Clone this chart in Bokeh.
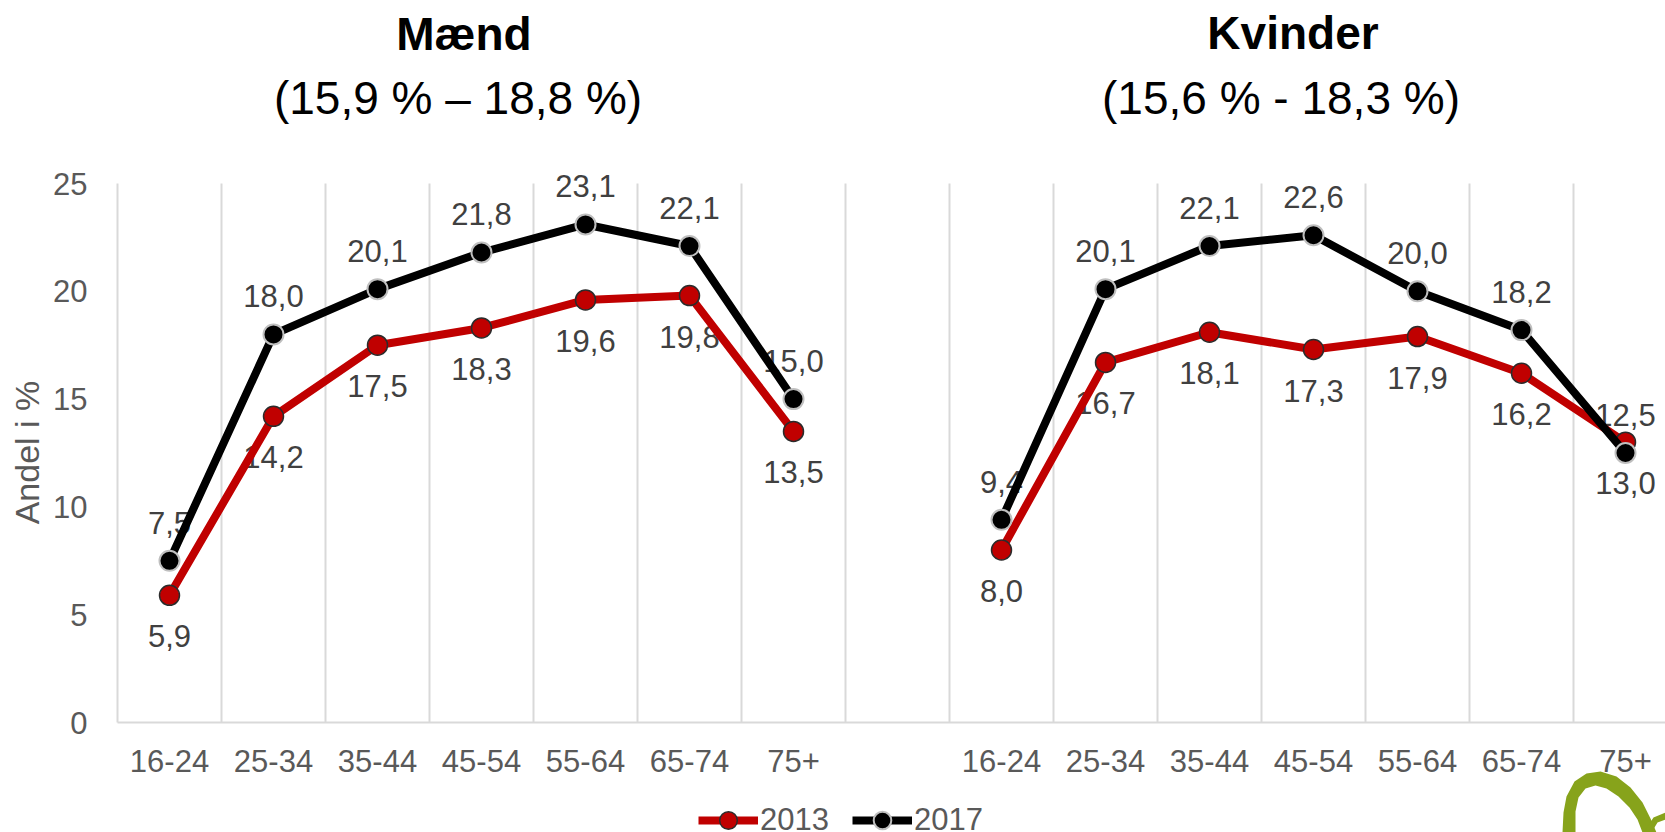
import math
from bokeh.plotting import figure
from bokeh.models import (ColumnDataSource, FixedTicker, LabelSet, Label, Legend,
                          LegendItem, Range1d)
from bokeh.core.properties import value
from bokeh.embed import file_html
from bokeh.resources import INLINE

# ---------------- data ----------------
ages = ["16-24", "25-34", "35-44", "45-54", "55-64", "65-74", "75+"]
years = ["2013", "2017"]
maend_2013 = [5.9, 14.2, 17.5, 18.3, 19.6, 19.8, 13.5]
maend_2017 = [7.5, 18.0, 20.1, 21.8, 23.1, 22.1, 15.0]
kvinder_2013 = [8.0, 16.7, 18.1, 17.3, 17.9, 16.2, 13.0]
kvinder_2017 = [9.4, 20.1, 22.1, 22.6, 20.0, 18.2, 12.5]
y_ticks = [0, 5, 10, 15, 20, 25]
titles = ["Mænd", "Kvinder"]
subtitles = ["(15,9 % – 18,8 %)", "(15,6 % - 18,3 %)"]
y_label = "Andel i %"

# ---------------- styling / layout ----------------
FONT = "Liberation Sans"
RED = "#C00000"
BLACK = "#000000"
GRID = "#D9D9D9"
AXIS_TXT = "#595959"
LBL_TXT = "#404040"
GREEN = "#87A31B"

W, H = 1665, 832          # the Bokeh page template has no body margin: figure at page 0,0
PAGE_X0, PAGE_Y0 = 0, 0
X_LEFT_PX, X_UNIT = 117, 104.0     # page px of category boundary -0.5, px per category
Y_ZERO_PX, Y_UNIT = 722, 21.56     # page px of value 0, px per unit
Y_MAX = 25


def dx(px):   # page pixel -> data x (layout helper for titles/decoration)
    return (px - X_LEFT_PX) / X_UNIT - 0.5


def dy(py):   # page pixel -> data y
    return (Y_ZERO_PX - py) / Y_UNIT


n = len(ages)
gap = 1
x_m = list(range(n))
x_k = [i + n + gap for i in range(n)]

x_range = Range1d(dx(PAGE_X0), dx(PAGE_X0 + W))
y_range = Range1d(dy(PAGE_Y0 + H), dy(PAGE_Y0))

p = figure(width=W, height=H, x_range=x_range, y_range=y_range,
           output_backend="svg", toolbar_location=None,
           min_border=0, min_border_left=0, min_border_right=0,
           min_border_top=0, min_border_bottom=0)
p.outline_line_color = None
p.background_fill_color = "white"
p.border_fill_color = "white"
p.xgrid.visible = False
p.ygrid.visible = False

# vertical category separators (gridlines) between 0 and the y max
bounds = [i - 0.5 for i in range(2 * n + gap)]
p.segment(x0=bounds, y0=[0] * len(bounds), x1=bounds, y1=[Y_MAX] * len(bounds),
          line_color=GRID, line_width=2, level="underlay")

# x axis drawn at y = 0
xa = p.xaxis[0]
xa.fixed_location = 0
xa.bounds = (-0.5, x_range.end)
xa.ticker = FixedTicker(ticks=x_m + x_k)
xa.major_label_overrides = {**{x: a for x, a in zip(x_m, ages)}, **{x: a for x, a in zip(x_k, ages)}}
xa.axis_line_color = GRID
xa.axis_line_width = 2
xa.major_tick_line_color = None
xa.minor_tick_line_color = None
xa.major_tick_out = 0
xa.major_tick_in = 0
xa.major_label_standoff = 27
xa.major_label_text_font = FONT
xa.major_label_text_font_size = "31px"
xa.major_label_text_color = AXIS_TXT

# y axis drawn at the left category boundary
ya = p.yaxis[0]
ya.fixed_location = -0.5
ya.bounds = (0, Y_MAX)
ya.ticker = FixedTicker(ticks=y_ticks)
ya.axis_line_color = None
ya.major_tick_line_color = None
ya.minor_tick_line_color = None
ya.major_tick_out = 0
ya.major_tick_in = 0
ya.major_label_standoff = 30
ya.major_label_text_font = FONT
ya.major_label_text_font_size = "31px"
ya.major_label_text_color = AXIS_TXT

p.add_layout(Label(x=dx(26), y=dy(452), text=y_label, angle=math.pi / 2,
                   text_font=FONT, text_font_size="34px", text_color=AXIS_TXT,
                   text_align="center", text_baseline="middle"))


def fmt(v):
    return f"{v:.1f}".replace(".", ",")


legend_r = {}
series = [
    (x_m, maend_2013, maend_2017),
    (x_k, kvinder_2013, kvinder_2017),
]
for gi, (xs, v13, v17) in enumerate(series):
    for year, vals, color, outline, olw, off in [
        ("2013", v13, RED, "#2B2B2B", 1.5, -41),
        ("2017", v17, BLACK, "#BFBFBF", 2.0, 38),
    ]:
        src = ColumnDataSource(dict(x=xs, y=vals, lab=[fmt(v) for v in vals]))
        lab = LabelSet(x="x", y="y", text="lab", source=src, y_offset=off,
                       text_align="center", text_baseline="middle",
                       text_font=value(FONT), text_font_size="31px", text_color=LBL_TXT,
                       level="underlay")
        p.add_layout(lab)
        ln = p.line("x", "y", source=src, line_color=color, line_width=8, line_join="round")
        sc = p.scatter("x", "y", source=src, size=20, fill_color=color,
                       line_color=outline, line_width=olw)
        if gi == 0:
            legend_r[year] = [ln, sc]

# titles (two lines above each panel)
title_px = [((463.5, 33), (457.5, 97.5)), ((1292.5, 32), (1280.5, 97.5))]
for t, st, ((tx, ty), (sx, sy)) in zip(titles, subtitles, title_px):
    p.add_layout(Label(x=dx(tx), y=dy(ty), text=t, text_font=FONT, text_font_size="46px",
                       text_font_style="bold", text_color="black",
                       text_align="center", text_baseline="middle"))
    p.add_layout(Label(x=dx(sx), y=dy(sy), text=st, text_font=FONT, text_font_size="46px",
                       text_color="black", text_align="center", text_baseline="middle"))

# legend at the bottom (partly cut by the page edge, as in the reference)
legend = Legend(items=[LegendItem(label=y, renderers=legend_r[y]) for y in years],
                location=(698 - PAGE_X0, -10), orientation="horizontal",
                glyph_width=60, glyph_height=44, label_standoff=2, spacing=23,
                padding=0, margin=0, border_line_color=None, background_fill_alpha=0,
                label_text_font=FONT, label_text_font_size="31px",
                label_text_color=AXIS_TXT)
p.add_layout(legend)

# decorative logo fragment (bottom-right corner), given in page pixels
outer = [(1562, 832), (1563, 812), (1566, 796), (1574, 781), (1586, 773), (1600, 771),
         (1616, 776), (1630, 787), (1642, 802), (1650, 818), (1656, 832)]
inner = [(1642, 832), (1637, 819), (1629, 807), (1618, 796), (1606, 788), (1595, 785),
         (1585, 788), (1578, 797), (1575, 811), (1575, 832)]
ring = outer + inner
branch = [(1645, 829), (1653, 817), (1665, 812), (1665, 819), (1657, 822), (1651, 832)]
for shape in (ring, branch):
    p.patch([dx(a) for a, b in shape], [dy(b) for a, b in shape],
            fill_color=GREEN, line_color=None)

open("out.html", "w").write(file_html(p, INLINE))
